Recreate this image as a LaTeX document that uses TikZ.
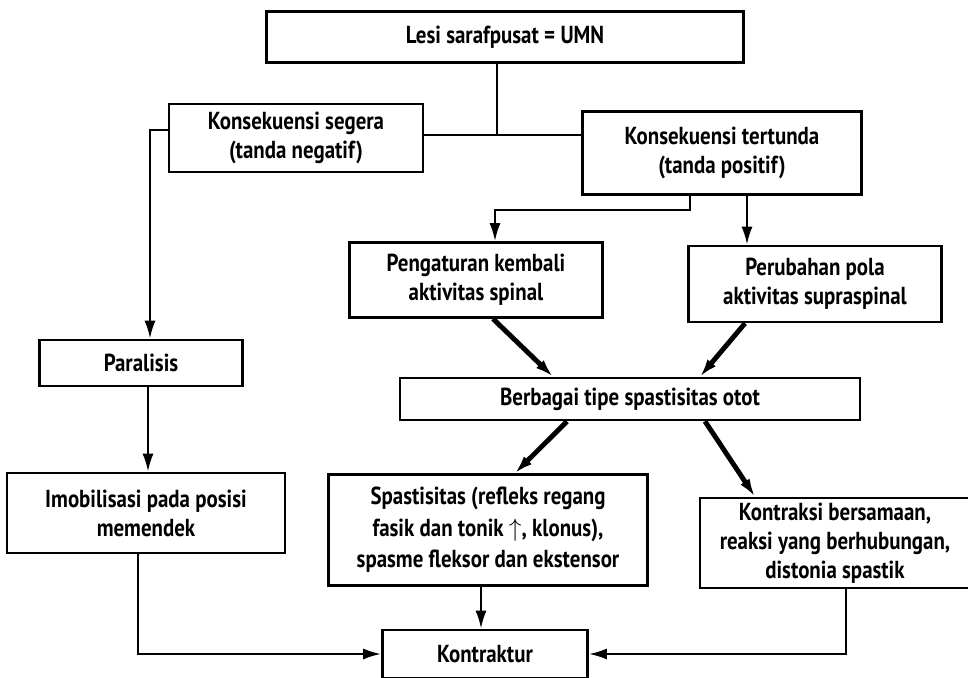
\documentclass[tikz,border=0pt]{standalone}
\usepackage{fontspec}
\setmainfont{PT Sans}[FakeStretch=0.85]
\usetikzlibrary{arrows.meta}

\begin{document}
\begin{tikzpicture}[
    x=0.02cm, y=-0.02cm,
    box/.style={draw, line width=1.5pt, inner sep=0pt, align=center, font=\fontsize{14}{16.5}\selectfont\bfseries},
    thin/.style={line width=1.3pt},
    thick/.style={line width=2.8pt},
    >={Latex[length=3.6mm,width=2.2mm]}
]
\useasboundingbox (0,0) rectangle (968,678);

% Top
\node[box, minimum width=9.54cm, minimum height=1.02cm] (lesi) at (505,37) {Lesi sarafpusat = UMN};

% Consequences
\node[box, minimum width=5.08cm, minimum height=1.36cm] (segera) at (296,138) {Konsekuensi segera\\(tanda negatif)};
\node[box, minimum width=5.58cm, minimum height=1.66cm] (tertunda) at (722,153) {Konsekuensi tertunda\\(tanda positif)};

% Second row
\node[box, minimum width=5.06cm, minimum height=1.5cm] (pengaturan) at (476,280) {Pengaturan kembali\\aktivitas spinal};
\node[box, minimum width=5.06cm, minimum height=1.52cm] (perubahan) at (815,284) {Perubahan pola\\aktivitas supraspinal};
\node[box, minimum width=4.06cm, minimum height=0.92cm] (paralisis) at (141,363) {Paralisis};
\node[box, minimum width=9.2cm, minimum height=0.84cm] (berbagai) at (630,399) {Berbagai tipe spastisitas otot};

% Third row
\node[box, minimum width=5.56cm, minimum height=1.6cm] (imobilisasi) at (146,513) {Imobilisasi pada posisi\\memendek};
\node[box, minimum width=6.38cm, minimum height=2.22cm, font=\fontsize{14}{18}\selectfont\bfseries] (spastisitas) at (488,530) {Spastisitas (refleks regang\\fasik dan tonik $\uparrow$, klonus),\\spasme fleksor dan ekstensor};
\node[box, minimum width=5.4cm, minimum height=1.8cm] (kontraksi) at (835,543) {Kontraksi bersamaan,\\reaksi yang berhubungan,\\distonia spastik};

% Bottom
\node[box, minimum width=4.1cm, minimum height=0.96cm] (kontraktur) at (485,654) {Kontraktur};

% Junction points
\coordinate (j1) at (497,135);
\coordinate (s1) at (150,130);
\coordinate (t1) at (690,210);
\coordinate (t2) at (495,210);
\coordinate (t3) at (747,0);
\coordinate (p1) at (148,0);
\coordinate (i1) at (138,0);
\coordinate (k1) at (481,0);
\coordinate (k2) at (846,0);

% Connections
\draw[thin] (lesi.south -| j1) -- (j1);
\draw[thin] (segera.east |- j1) -- (tertunda.west |- j1);
\draw[thin, ->] (segera.west |- s1) -- (s1) -- (paralisis.north -| s1);
\draw[thin, ->] (tertunda.south -| t1) -- (t1) -- (t2) -- (pengaturan.north -| t2);
\draw[thin, ->] (tertunda.south -| t3) -- (perubahan.north -| t3);
\draw[thin, ->] (paralisis.south -| p1) -- (imobilisasi.north -| p1);

\draw[thick, ->] ([xshift=0.34cm]pengaturan.south) -- ([xshift=-1.54cm]berbagai.north);
\draw[thick, ->] ([xshift=-1.4cm]perubahan.south) -- ([xshift=1.4cm]berbagai.north);
\draw[thick, ->] ([xshift=-1.26cm]berbagai.south) -- ([xshift=0.54cm]spastisitas.north);
\draw[thick, ->] ([xshift=1.5cm]berbagai.south) -- ([xshift=-1.6cm]kontraksi.north);

\draw[thin, ->] (imobilisasi.south -| i1) |- (kontraktur.west);
\draw[thin, ->] (spastisitas.south -| k1) -- (kontraktur.north -| k1);
\draw[thin, ->] (kontraksi.south -| k2) |- (kontraktur.east);
\end{tikzpicture}
\end{document}
